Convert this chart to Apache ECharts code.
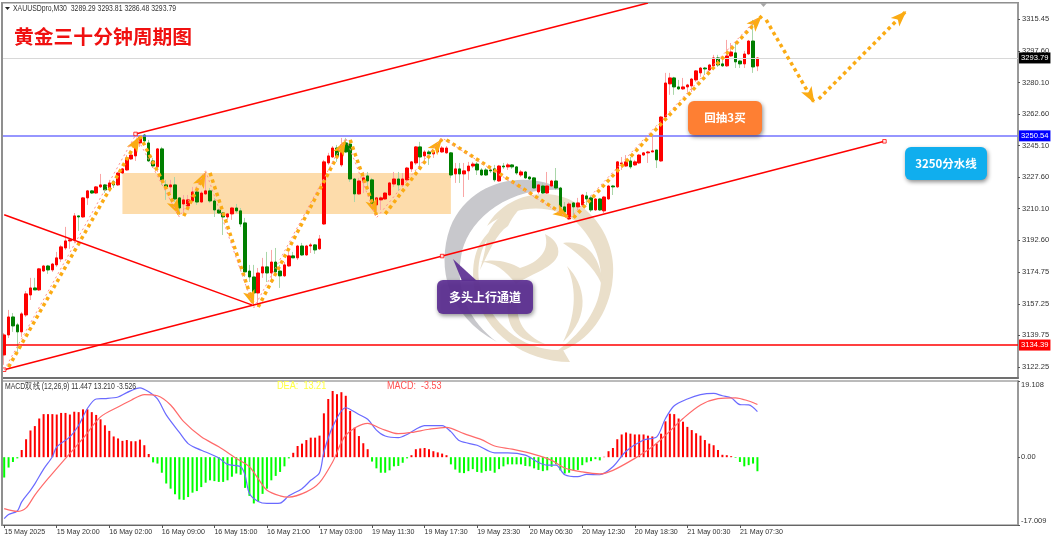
<!DOCTYPE html>
<html lang="zh-CN">

<head>
    <meta charset="UTF-8">
    <title>黄金三十分钟周期图</title>
    <script src="https://cdnjs.cloudflare.com/ajax/libs/echarts/6.0.0/echarts.min.js"></script>
    <style>
        html, body { margin: 0; padding: 0; background: #fff; }
        #chart { width: 1054px; height: 542px; }
    </style>
</head>

<body>
    <div id="chart"></div>
    <script>
        // K线 (bar 0 = 15 May 2025)
        const opens = [
            3128.9, 3140.0, 3150.0, 3145.6, 3141.7, 3151.1, 3162.2, 3166.1, 3165.0, 3175.5,
            3178.3, 3176.1, 3178.9, 3182.2, 3188.3, 3192.2, 3192.8, 3206.1, 3205.5, 3216.1,
            3220.0, 3218.8, 3222.2, 3223.3, 3221.6, 3225.0, 3223.3, 3229.9, 3231.6, 3237.7,
            3239.4, 3246.6, 3251.0, 3246.6, 3236.6, 3233.3, 3243.3, 3223.3, 3222.2, 3223.3,
            3216.1, 3212.7, 3211.6, 3214.4, 3219.4, 3213.8, 3218.3, 3220.0, 3214.4, 3209.4,
            3207.7, 3205.5, 3207.2, 3210.5, 3208.9, 3202.2, 3175.5, 3172.2, 3163.3, 3174.4,
            3177.8, 3174.4, 3180.5, 3175.5, 3172.8, 3178.3, 3183.9, 3182.8, 3189.4, 3184.4,
            3189.4, 3190.0, 3187.8, 3201.6, 3235.5, 3238.8, 3243.8, 3234.4, 3246.6, 3246.0,
            3226.6, 3218.3, 3225.0, 3228.3, 3226.1, 3212.2, 3215.0, 3215.5, 3217.7, 3223.8,
            3226.6, 3223.3, 3226.1, 3232.2, 3235.5, 3244.4, 3239.4, 3241.6, 3240.5, 3241.6,
            3241.6, 3241.1, 3241.1, 3229.4, 3232.2, 3229.4, 3231.1, 3233.8, 3234.9, 3231.6,
            3231.6, 3231.6, 3232.2, 3225.5, 3233.8, 3233.3, 3234.4, 3233.3, 3228.8, 3230.5,
            3227.7, 3227.2, 3219.4, 3222.7, 3218.8, 3222.7, 3225.5, 3221.6, 3211.1, 3204.4,
            3213.3, 3211.1, 3212.2, 3217.2, 3216.1, 3209.4, 3215.5, 3208.9, 3215.5, 3222.7,
            3222.2, 3234.9, 3233.8, 3236.6, 3234.4, 3235.5, 3239.9, 3241.1, 3241.6, 3242.7,
            3236.6, 3261.0, 3279.4, 3282.7, 3277.7, 3276.6, 3277.7, 3278.3, 3281.6, 3285.5,
            3288.2, 3287.1, 3289.4, 3293.8, 3290.5, 3289.4, 3294.9, 3296.6, 3292.1, 3290.5,
            3296.0, 3303.2, 3289.29
        ];
        const closes = [
            3140.0, 3150.0, 3145.0, 3141.7, 3151.7, 3162.8, 3166.1, 3165.0, 3176.7, 3178.3,
            3176.1, 3179.4, 3182.8, 3188.9, 3192.2, 3192.8, 3206.1, 3205.5, 3216.1, 3220.0,
            3218.8, 3222.2, 3223.3, 3220.5, 3224.4, 3223.3, 3229.9, 3232.2, 3238.3, 3239.9,
            3245.5, 3249.9, 3247.7, 3236.6, 3233.8, 3243.3, 3226.1, 3222.2, 3223.3, 3215.5,
            3210.5, 3215.0, 3215.0, 3219.4, 3213.8, 3218.8, 3220.0, 3214.4, 3209.4, 3207.7,
            3205.5, 3207.2, 3210.5, 3208.9, 3201.6, 3175.0, 3172.2, 3163.3, 3174.4, 3177.8,
            3174.4, 3180.5, 3175.0, 3172.8, 3178.9, 3183.9, 3182.8, 3189.4, 3184.4, 3189.4,
            3190.0, 3187.2, 3193.3, 3236.1, 3239.4, 3243.8, 3239.4, 3245.5, 3241.6, 3226.6,
            3218.3, 3225.5, 3227.2, 3225.5, 3212.2, 3216.1, 3216.1, 3218.8, 3224.4, 3226.6,
            3223.3, 3226.6, 3232.7, 3236.1, 3244.4, 3238.8, 3241.6, 3240.5, 3241.6, 3243.8,
            3243.8, 3243.8, 3228.8, 3232.2, 3229.4, 3231.1, 3233.8, 3234.9, 3231.6, 3228.8,
            3228.8, 3231.1, 3226.1, 3233.8, 3233.3, 3234.4, 3233.3, 3229.9, 3230.5, 3227.2,
            3226.6, 3221.6, 3223.3, 3218.8, 3222.7, 3225.5, 3221.6, 3211.1, 3208.3, 3212.7,
            3211.1, 3213.3, 3217.7, 3215.5, 3209.4, 3215.5, 3209.4, 3216.6, 3222.7, 3222.2,
            3236.1, 3235.5, 3236.1, 3233.3, 3236.1, 3239.9, 3241.1, 3241.6, 3242.2, 3237.2,
            3261.0, 3279.9, 3282.7, 3277.7, 3276.6, 3277.7, 3278.8, 3282.1, 3286.6, 3288.2,
            3287.7, 3289.9, 3293.8, 3289.9, 3289.4, 3294.9, 3297.1, 3291.6, 3290.5, 3296.0,
            3303.2, 3288.8, 3293.79
        ];
        const lows = [
            3123.4, 3138.3, 3141.7, 3130.6, 3138.9, 3150.0, 3159.4, 3165.0, 3164.4, 3175.0,
            3173.9, 3175.0, 3177.8, 3180.5, 3187.2, 3187.8, 3191.1, 3197.7, 3205.0, 3212.2,
            3218.3, 3218.3, 3221.6, 3218.8, 3219.4, 3221.6, 3222.7, 3229.4, 3231.1, 3237.2,
            3236.6, 3244.4, 3245.5, 3236.1, 3232.7, 3230.5, 3223.3, 3215.0, 3218.8, 3213.8,
            3206.6, 3207.7, 3211.1, 3213.8, 3212.2, 3213.3, 3217.7, 3213.3, 3205.5, 3207.2,
            3195.5, 3203.9, 3203.9, 3207.7, 3200.0, 3172.2, 3169.4, 3158.3, 3155.6, 3171.7,
            3169.4, 3168.9, 3173.3, 3166.1, 3172.2, 3177.8, 3182.8, 3181.6, 3183.9, 3183.9,
            3185.5, 3185.0, 3187.2, 3201.1, 3234.4, 3238.3, 3236.1, 3233.3, 3241.1, 3225.0,
            3213.8, 3217.7, 3218.8, 3220.5, 3210.5, 3206.6, 3209.4, 3215.0, 3217.2, 3222.2,
            3220.0, 3222.2, 3225.5, 3230.5, 3234.4, 3233.3, 3236.1, 3234.4, 3238.3, 3241.1,
            3241.1, 3240.5, 3227.2, 3224.4, 3224.4, 3216.6, 3226.1, 3232.7, 3228.8, 3228.3,
            3228.3, 3229.9, 3225.0, 3225.0, 3232.2, 3231.6, 3232.2, 3228.8, 3227.7, 3226.6,
            3226.1, 3221.1, 3218.3, 3218.3, 3218.3, 3222.2, 3220.5, 3209.4, 3205.5, 3203.9,
            3206.6, 3209.4, 3211.6, 3212.2, 3208.3, 3208.9, 3208.9, 3207.7, 3215.0, 3217.7,
            3221.6, 3231.6, 3233.3, 3232.2, 3233.8, 3234.9, 3239.4, 3235.5, 3241.6, 3232.7,
            3236.1, 3260.5, 3273.3, 3273.3, 3276.0, 3276.0, 3274.9, 3274.9, 3280.5, 3283.3,
            3284.4, 3286.6, 3288.8, 3288.8, 3288.8, 3288.8, 3294.4, 3288.2, 3288.2, 3288.2,
            3295.5, 3285.5, 3286.48
        ];
        const highs = [
            3141.1, 3153.9, 3152.2, 3146.7, 3152.8, 3164.4, 3171.7, 3171.7, 3177.2, 3178.9,
            3178.9, 3180.0, 3186.1, 3190.0, 3200.0, 3193.9, 3207.7, 3206.1, 3216.6, 3220.5,
            3220.5, 3222.7, 3229.4, 3223.8, 3226.1, 3226.1, 3230.5, 3232.7, 3239.9, 3240.5,
            3246.0, 3251.0, 3251.6, 3248.3, 3238.3, 3243.8, 3244.4, 3226.1, 3226.1, 3227.7,
            3216.6, 3217.7, 3217.7, 3222.2, 3222.2, 3220.0, 3230.5, 3221.6, 3216.1, 3210.0,
            3208.3, 3207.7, 3211.1, 3212.7, 3210.5, 3205.0, 3178.9, 3178.9, 3177.2, 3182.8,
            3186.1, 3187.2, 3188.3, 3178.9, 3180.5, 3186.1, 3186.1, 3190.0, 3191.1, 3190.0,
            3191.1, 3190.5, 3195.5, 3237.2, 3241.1, 3244.9, 3245.5, 3249.4, 3249.4, 3248.3,
            3227.2, 3227.2, 3230.5, 3230.5, 3227.2, 3216.6, 3217.2, 3219.4, 3225.0, 3230.5,
            3230.5, 3229.9, 3233.3, 3236.6, 3244.9, 3247.2, 3242.7, 3242.7, 3242.7, 3244.9,
            3244.9, 3244.9, 3241.6, 3235.5, 3235.5, 3235.5, 3236.1, 3236.1, 3236.1, 3232.7,
            3232.7, 3233.3, 3234.4, 3234.4, 3235.5, 3235.5, 3234.9, 3233.8, 3231.6, 3231.1,
            3228.3, 3227.7, 3223.8, 3224.4, 3230.5, 3226.1, 3232.7, 3222.2, 3213.8, 3213.8,
            3213.8, 3216.1, 3218.3, 3219.4, 3217.2, 3216.1, 3216.1, 3217.2, 3223.3, 3223.3,
            3236.6, 3238.8, 3239.9, 3238.8, 3237.2, 3240.5, 3241.6, 3242.2, 3249.9, 3242.7,
            3261.6, 3285.5, 3285.5, 3283.3, 3281.6, 3282.7, 3279.4, 3282.7, 3287.1, 3288.8,
            3288.8, 3290.5, 3295.5, 3295.5, 3294.4, 3303.8, 3302.1, 3302.1, 3292.7, 3297.7,
            3303.8, 3314.9, 3293.81
        ];

        // MACD 柱
        const histValues = [
            -5.1, -2.6, -1.2, -0.3, 1.8, 4.5, 6.7, 7.8, 9.7, 10.8,
            10.8, 10.8, 10.7, 11.1, 11.1, 10.7, 11.4, 11.3, 12.0, 12.0,
            11.3, 10.6, 9.5, 8.0, 6.6, 5.2, 4.7, 4.1, 4.3, 4.0,
            4.0, 4.4, 3.0, 0.8, -1.3, -1.6, -3.9, -6.6, -7.9, -9.3,
            -10.6, -10.7, -10.0, -8.9, -8.5, -7.5, -6.4, -5.8, -6.0, -6.2,
            -6.2, -5.8, -4.9, -4.1, -4.4, -7.7, -9.7, -11.6, -11.1, -9.2,
            -7.9, -5.8, -4.7, -3.7, -2.3, -0.3, 1.1, 2.8, 3.4, 4.3,
            4.9, 4.9, 5.4, 11.0, 14.6, 16.6, 15.8, 16.3, 15.4, 11.6,
            7.4, 5.3, 3.5, 2.0, -1.1, -2.8, -3.9, -3.9, -3.3, -2.3,
            -2.2, -1.4, -0.3, 0.5, 2.0, 2.2, 2.3, 2.0, 1.5, 1.2,
            0.9, 0.5, -1.8, -3.1, -3.9, -4.0, -3.5, -3.0, -3.7, -3.9,
            -3.5, -3.4, -3.9, -3.0, -2.3, -1.8, -1.8, -1.8, -1.8, -2.2,
            -2.3, -2.8, -3.2, -3.5, -3.3, -2.4, -1.8, -3.3, -4.1, -3.9,
            -3.3, -3.2, -2.0, -1.3, -1.0, -0.5, -0.8, 0.1, 1.5, 2.3,
            4.5, 5.7, 6.2, 5.9, 5.7, 5.7, 5.7, 5.4, 5.2, 3.4,
            5.9, 9.0, 10.9, 10.8, 9.7, 8.9, 7.6, 6.8, 6.0, 5.4,
            4.3, 3.4, 3.0, 1.8, 0.6, 0.5, 0.25, -0.15, -1.2, -2.3,
            -2.0, -1.6, -3.526
        ];
        // [bar, value]
        const macdLine = [
            [0, -15.4], [1, -14.4], [3, -13.5], [4, -11.2], [6, -8.3], [7, -6.7], [9, -3.0], [11, 0.1], [12, 2.6], [15, 5.1],
            [17, 8.0], [19, 12.2], [21, 14.6], [23, 14.7], [26, 15.1], [28, 16.2], [31, 17.4], [33, 16.4], [35, 14.6], [37, 10.6],
            [40, 6.2], [42, 3.4], [44, 2.2], [46, 1.3], [49, -0.2], [51, -1.8], [54, -2.4], [55, -4.5], [56, -9.1], [58, -11.1],
            [60, -11.6], [63, -11.5], [65, -9.7], [68, -7.9], [70, -5.8], [72, -3.9], [73, 1.3], [75, 7.6], [78, 12.4], [81, 10.7],
            [83, 9.5], [85, 6.8], [87, 5.3], [90, 4.9], [92, 5.7], [94, 7.0], [96, 7.9], [100, 7.9], [102, 6.4], [104, 4.1],
            [108, 3.0], [112, 1.1], [115, 1.1], [119, 0.5], [122, -1.3], [124, -2.0], [126, -2.0], [128, -4.4], [131, -4.9], [133, -4.3],
            [136, -4.4], [139, -2.4], [142, 1.5], [146, 4.3], [149, 5.1], [151, 9.7], [153, 12.9], [156, 14.6], [159, 15.7], [162, 16.0],
            [164, 15.4], [166, 14.9], [168, 13.2], [170, 13.1], [172, 11.447]
        ];
        const deaLine = [
            [0, -12.9], [3, -13.6], [5, -12.7], [7, -9.5], [10, -5.4], [14, -0.3], [18, 4.7], [22, 10.1], [26, 12.6], [29, 14.3],
            [32, 15.7], [35, 15.4], [38, 13.1], [41, 8.9], [45, 5.1], [49, 2.6], [53, -0.3], [56, -2.4], [58, -5.4], [60, -8.3],
            [63, -9.7], [65, -10.0], [69, -8.7], [72, -6.4], [75, -1.2], [78, 5.5], [83, 8.5], [86, 7.2], [90, 5.9], [93, 6.2],
            [97, 7.0], [101, 7.5], [105, 5.9], [109, 4.4], [112, 2.8], [116, 2.0], [121, 0.7], [125, -0.8], [128, -2.7], [132, -3.7],
            [136, -4.2], [139, -3.3], [144, -0.3], [148, 2.6], [151, 5.5], [155, 9.7], [159, 13.1], [163, 14.7], [167, 14.9], [170, 14.1],
            [172, 13.21]
        ];

        const barCount = 232;
        const timeLabels = [
            '15 May 2025', '15 May 20:00', '16 May 02:00', '16 May 09:00', '16 May 15:00',
            '16 May 21:00', '17 May 03:00', '19 May 11:30', '19 May 17:30', '19 May 23:30',
            '20 May 06:30', '20 May 12:30', '20 May 18:30', '21 May 00:30', '21 May 07:30'
        ];
        const priceTicks = [3122.25, 3139.75, 3157.25, 3174.75, 3192.60, 3210.10, 3227.60, 3245.10, 3262.60, 3280.10, 3297.60, 3315.45];
        const macdTicks = [-17.009, 0, 19.108];
        const priceMin = 3116.1, priceMax = 3324.3;

        const bidPrice = 3293.79, levelBlue = 3250.54, levelRed = 3134.39;

        // 趋势线 [bar, price]
        const channelUpper = [[30, 3251.6], [147, 3324.3]];
        const channelLower = [[0, 3120.7], [201, 3247.5]];
        const fallLine = [[0, 3206.7], [57, 3156.3]];
        const anchors = [[30, 3251.6], [100, 3183.8], [201, 3247.5], [0, 3120.7]];
        const zoneBox = [[27, 3229.9], [102, 3207.2]];

        // 波浪箭头 [barFrom, priceFrom, barTo, priceTo]
        const waveLegs = [
            [1, 3122.2, 31, 3250.5],
            [31, 3250.5, 40, 3206.6],
            [41, 3206.0, 46, 3230.5],
            [47, 3230.0, 57, 3156.1],
            [58, 3155.5, 78, 3248.3],
            [79, 3248.3, 85, 3206.6],
            [87, 3207.2, 100, 3248.8],
            [101, 3248.3, 129, 3205.0],
            [130, 3205.0, 173, 3317.1],
            [174, 3314.9, 185, 3268.8],
            [186, 3271.0, 206, 3319.9]
        ];
        const pinkPath = [
            [0, 3120.6], [30, 3251.0], [40, 3205.5], [46, 3231.1], [57, 3155.0], [78, 3249.4],
            [85, 3205.0], [100, 3249.4], [129, 3204.4], [172, 3316.0]
        ];

        const categories = Array.from({ length: barCount }, (_, i) => String(i));
        const candleData = opens.map((o, i) => [o, closes[i], lows[i], highs[i]]);
        const bodyData = opens.map((o, i) => [o, closes[i], Math.min(o, closes[i]), Math.max(o, closes[i])]);
        const isTimeTick = i => i % 12 === 0 && i / 12 < timeLabels.length;

        const uiFont = '"Liberation Sans", Arial, sans-serif';
        const cjkFont = '"Noto Sans CJK SC", sans-serif';

        // 箭头尖在方框中心, 这样尖端正好落在线的终点
        const arrowHead = 'path://M0 0L0 0M32 32L32 32M16 16L22 32L16 28L10 32Z';

        function trend(data) {
            return {
                type: 'line', data: data, showSymbol: false, silent: true, z: 5,
                xAxisIndex: 0, yAxisIndex: 0,
                lineStyle: { color: '#ff0000', width: 1.5 }
            };
        }

        function levelLine(value, color, bg, width) {
            return {
                yAxis: value,
                lineStyle: { color: color, width: width, type: 'solid' },
                label: {
                    show: true, position: 'end', distance: 1, formatter: value.toFixed(2),
                    color: '#fff', backgroundColor: bg, fontSize: 7.6, fontFamily: uiFont,
                    padding: [2, 2, 1, 2]
                }
            };
        }

        const tan = '#eadfca';
        const watermark = [
            { fill: '#c8c8cc', d: 'M563 190 C528 170 470 178 450 228 C436 268 448 316 497 342 C470 322 455 292 461 257 C466 222 505 186 563 190Z' },
            { fill: tan, d: 'M487 226 C500 202 530 190 555 195 C592 202 620 242 612 285 C606 320 585 345 553 354 C580 335 601 310 601 278 C601 255 590 235 575 221 C558 207 520 200 487 226Z' },
            { fill: tan, d: 'M497 226 C482 242 474 265 481 290 C491 322 522 352 563 350 L570 362 C525 362 484 333 475 292 C469 260 478 238 497 226Z' },
            { fill: tan, d: 'M527 202 C508 208 494 218 487 236 C486 250 482 262 480 270 C490 250 496 234 508 226 C514 214 520 208 527 202Z' },
            { fill: tan, d: 'M480 262 C495 262 505 270 516 284 C535 272 553 268 558 255 C560 245 553 238 545 234 C550 250 540 262 520 268 C510 262 495 258 480 262Z' },
            { fill: tan, d: 'M563 243 C585 240 600 252 604 290 C598 272 585 258 563 243Z' },
            { fill: tan, d: 'M567 266 C585 285 592 315 563 342 C575 318 578 290 567 266Z' },
            { fill: tan, d: 'M508 300 C505 325 515 342 545 344 C525 335 514 322 518 296 C515 298 512 298 508 300Z' }
        ];
        // graphic 组件没有内置 path 类型, 先注册
        watermark.forEach((p, i) => {
            echarts.graphic.registerShape('wm' + i, echarts.graphic.extendPath(p.d, {}));
        });

        function callout(x, y, w, h, fill, text, opacity, fontSize) {
            return [
                {
                    type: 'rect', z: 100, shape: { x: x, y: y, width: w, height: h, r: 6 },
                    style: { fill: fill, opacity: opacity, shadowBlur: 4, shadowOffsetX: 1, shadowOffsetY: 2, shadowColor: 'rgba(0,0,0,0.45)' }
                },
                {
                    type: 'text', z: 101, x: x + w / 2, y: y + h / 2,
                    style: { text: text, fill: '#fff', font: 'bold ' + fontSize + 'px ' + cjkFont, align: 'center', verticalAlign: 'middle' }
                }
            ];
        }

        // 原图字体偏窄, 横向压一点
        function smallText(x, y, text, color, size, squeeze) {
            return { type: 'text', z: 10, x: x, y: y, scaleX: squeeze, style: { text: text, fill: color, font: size + 'px ' + uiFont, verticalAlign: 'middle' } };
        }

        const graphics = [
            ...watermark.map((p, i) => ({ type: 'wm' + i, z: 0, silent: true, style: { fill: p.fill } })),
            { type: 'rect', z: 10, shape: { x: 1, y: 2, width: 2, height: 524 }, style: { fill: '#8f8f8f' } },
            { type: 'rect', z: 10, shape: { x: 1, y: 2, width: 1018, height: 1 }, style: { fill: '#8f8f8f' } },
            { type: 'polygon', z: 10, shape: { points: [[5, 7], [10, 7], [7.5, 10]] }, style: { fill: '#222' } },
            smallText(13, 9, 'XAUUSDpro,M30  3289.29 3293.81 3286.48 3293.79', '#333', 8.5, 0.81),
            { type: 'text', z: 10, x: 14, y: 36, style: { text: '黄金三十分钟周期图', fill: '#f01010', font: 'bold 19.8px ' + cjkFont, verticalAlign: 'middle' } },
            { type: 'polygon', z: 10, shape: { points: [[760, 3], [767, 3], [763.5, 7]] }, style: { fill: '#a8a8a8' } },
            smallText(5, 387, 'MACD双线 (12,26,9) 11.447 13.210 -3.526', '#333', 8.5, 0.81),
            smallText(277, 386, 'DEA:  13.21', '#ffff40', 11, 0.83),
            smallText(387, 386, 'MACD:  -3.53', '#ff5050', 11, 0.82),
            ...callout(688, 101, 74, 34, '#fe7f33', '回抽3买', 1, 11.5),
            ...callout(905, 147, 82, 33, '#10aeee', '3250分水线', 1, 11.5),
            { type: 'polygon', z: 100, shape: { points: [[453, 259], [462, 281], [477, 281]] }, style: { fill: '#5c2f92', opacity: 0.92 } },
            ...callout(437, 280, 96, 34, '#5c2f92', '多头上行通道', 0.92, 12)
        ];

        const option = {
            animation: false,
            backgroundColor: '#fff',
            graphic: graphics,
            grid: [
                { left: 2, right: 36, top: 3, height: 375, outerBoundsMode: 'none', show: true, borderColor: '#8c8c8c', borderWidth: 1, backgroundColor: 'transparent' },
                { left: 2, right: 36, top: 381, height: 144, outerBoundsMode: 'none', show: true, borderColor: '#777', borderWidth: 1, backgroundColor: 'transparent' }
            ],
            xAxis: [
                {
                    type: 'category', gridIndex: 0, data: categories,
                    axisLabel: { show: false }, axisTick: { show: false },
                    axisLine: { show: true, onZero: false, lineStyle: { color: '#707070', width: 2 } }
                },
                {
                    type: 'category', gridIndex: 1, data: categories,
                    axisLine: { show: true, onZero: false, lineStyle: { color: '#666', width: 1 } },
                    axisTick: { show: true, length: 3, alignWithLabel: true, interval: i => isTimeTick(i), lineStyle: { color: '#555' } },
                    axisLabel: {
                        interval: i => isTimeTick(i),
                        formatter: (v, i) => timeLabels[i / 12] || '',
                        align: 'left', margin: 4, color: '#333', fontSize: 7.1, fontFamily: uiFont, hideOverlap: false
                    }
                }
            ],
            yAxis: [
                {
                    type: 'value', gridIndex: 0, position: 'right', min: priceMin, max: priceMax, scale: true,
                    splitLine: { show: false },
                    axisLine: { show: true, lineStyle: { color: '#999', width: 2 } },
                    axisTick: { show: true, length: 2, customValues: priceTicks, lineStyle: { color: '#555' } },
                    axisLabel: { customValues: priceTicks, formatter: v => v.toFixed(2), color: '#333', fontSize: 7.5, fontFamily: uiFont, margin: 4 }
                },
                {
                    type: 'value', gridIndex: 1, position: 'right', min: macdTicks[0], max: macdTicks[2],
                    splitLine: { show: false },
                    axisLine: { show: true, lineStyle: { color: '#999', width: 2 } },
                    axisTick: { show: true, length: 2, customValues: macdTicks, lineStyle: { color: '#555' } },
                    axisLabel: {
                        customValues: macdTicks,
                        formatter: v => (v === 0 ? '0.00' : String(v)),
                        verticalAlignMaxLabel: 'top', verticalAlignMinLabel: 'bottom',
                        color: '#333', fontSize: 7.5, fontFamily: uiFont, margin: 3
                    }
                }
            ],
            series: [
                {
                    name: 'zone', type: 'line', data: [], xAxisIndex: 0, yAxisIndex: 0, z: 1, silent: true,
                    markArea: {
                        silent: true,
                        itemStyle: { color: '#fddcab' },
                        data: [[{ coord: zoneBox[0] }, { coord: zoneBox[1] }]]
                    }
                },
                {
                    name: 'wicks', type: 'candlestick', data: candleData, xAxisIndex: 0, yAxisIndex: 0, z: 2,
                    barWidth: 1, silent: true,
                    itemStyle: { color: '#f9a6a6', color0: '#a9d6a9', borderColor: '#f9a6a6', borderColor0: '#a9d6a9', borderWidth: 1 }
                },
                {
                    name: 'bodies', type: 'candlestick', data: bodyData, xAxisIndex: 0, yAxisIndex: 0, z: 3,
                    barWidth: 3, silent: true,
                    itemStyle: { color: '#ff0000', color0: '#007f00', borderColor: '#ff0000', borderColor0: '#007f00', borderWidth: 1 }
                },
                {
                    name: 'levels', type: 'line', data: [], xAxisIndex: 0, yAxisIndex: 0, z: 4, silent: true,
                    markLine: {
                        silent: true, symbol: 'none', animation: false,
                        data: [
                            levelLine(bidPrice, '#d8d8d8', '#000', 1),
                            levelLine(levelBlue, '#7373ff', '#0000ff', 1.5),
                            levelLine(levelRed, '#ff0000', '#ff0000', 1.5)
                        ]
                    }
                },
                trend(channelUpper),
                trend(channelLower),
                trend(fallLine),
                {
                    name: 'anchors', type: 'scatter', data: anchors, xAxisIndex: 0, yAxisIndex: 0, z: 6, silent: true,
                    symbol: 'rect', symbolSize: 3.5,
                    itemStyle: { color: '#fff', borderColor: '#ff0000', borderWidth: 1 }
                },
                {
                    name: 'pink', type: 'line', data: pinkPath, xAxisIndex: 0, yAxisIndex: 0, z: 7, showSymbol: false, silent: true,
                    lineStyle: { color: '#ff8f8f', width: 1, type: [2, 3] }
                },
                {
                    name: 'wave', type: 'line', data: [], xAxisIndex: 0, yAxisIndex: 0, z: 8, silent: true,
                    markLine: {
                        silent: true, symbol: ['none', arrowHead], symbolSize: 32, animation: false,
                        label: { show: false },
                        lineStyle: { color: '#fbab14', width: 3.5, type: [3.5, 3.5] },
                        data: waveLegs.map(l => [{ coord: [l[0], l[1]] }, { coord: [l[2], l[3]] }])
                    }
                },
                {
                    name: 'hist', type: 'bar', data: histValues, xAxisIndex: 1, yAxisIndex: 1, barWidth: 2, silent: true,
                    itemStyle: { color: p => (p.value >= 0 ? '#ff0000' : '#00ff00') }
                },
                {
                    name: 'macd', type: 'line', data: macdLine, xAxisIndex: 1, yAxisIndex: 1, showSymbol: false, smooth: 0.3, silent: true, z: 4,
                    lineStyle: { color: '#6a6aff', width: 1.2 }
                },
                {
                    name: 'dea', type: 'line', data: deaLine, xAxisIndex: 1, yAxisIndex: 1, showSymbol: false, smooth: 0.3, silent: true, z: 4,
                    lineStyle: { color: '#ff6a6a', width: 1.2 }
                }
            ]
        };

        const chart = echarts.init(document.getElementById('chart'), null, { renderer: 'canvas' });
        chart.setOption(option);
    </script>
</body>

</html>
